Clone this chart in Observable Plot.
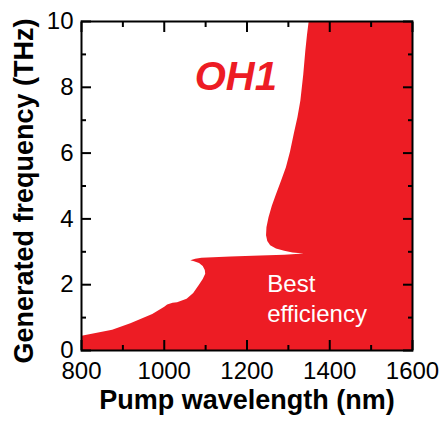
<!DOCTYPE html>
<html>
<head>
<meta charset="utf-8">
<script src="https://cdn.jsdelivr.net/npm/d3@7"></script>
<script src="https://cdn.jsdelivr.net/npm/@observablehq/plot@0.6"></script>
<style>
  html, body { margin: 0; padding: 0; background: #fff; }
  #chart { width: 442px; height: 423px; }
</style>
</head>
<body>
<div id="chart"></div>
<script>
// Boundary of the phase-matched region (pump wavelength nm, generated frequency THz)
const regionWavelength = [800, 800, 874, 918, 971, 1000, 1007, 1020, 1031, 1054, 1070, 1083, 1093, 1099, 1098, 1093, 1084, 1072, 1063, 1075, 1090, 1160, 1232, 1290, 1337, 1310, 1290, 1270, 1256, 1249, 1246, 1247, 1252, 1260, 1270, 1282, 1294, 1304, 1313, 1322, 1329, 1336, 1341, 1345, 1349, 1600, 1600];
const regionFrequency  = [0, 0.45, 0.63, 0.83, 1.11, 1.33, 1.40, 1.45, 1.47, 1.57, 1.75, 1.98, 2.17, 2.33, 2.45, 2.57, 2.66, 2.71, 2.74, 2.79, 2.82, 2.86, 2.89, 2.91, 2.95, 2.98, 3.03, 3.10, 3.20, 3.33, 3.50, 3.75, 4.05, 4.40, 4.75, 5.15, 5.57, 6.05, 6.59, 7.10, 7.60, 8.40, 9.12, 9.60, 10, 10, 0];

const xMajorTicks = [800, 1000, 1200, 1400, 1600];
const xMinorTicks = [900, 1100, 1300, 1500];
const yMajorTicks = [0, 2, 4, 6, 8, 10];
const yMinorTicks = [1, 3, 5, 7, 9];

const xLabel = "Pump wavelength (nm)";
const yLabel = "Generated frequency (THz)";
const materialLabel = ["OH1"];
const materialPos = [1173, 8.3];
const noteLabel = ["Best\nefficiency"];
const notePos = [1249, 2.43];

const red = "#ed1c24";
const region = regionWavelength.map((x, i) => ({x, y: regionFrequency[i]}));

const tickStyle = {stroke: "black", strokeWidth: 2, fontSize: 24, fill: "black", label: null};

const chart = Plot.plot({
  width: 442,
  height: 423,
  marginLeft: 81,
  marginRight: 30,
  marginTop: 21,
  marginBottom: 73,
  style: {fontFamily: "'Liberation Sans', Arial, Helvetica, sans-serif", background: "white", color: "black"},
  x: {domain: [800, 1600], axis: null},
  y: {domain: [0, 10], axis: null},
  marks: [
    Plot.line(region, {x: "x", y: "y", fill: red, stroke: "none", curve: "linear-closed", clip: true}),
    Plot.axisX({...tickStyle, anchor: "bottom", ticks: xMajorTicks, tickSize: -10, tickPadding: 21, tickFormat: d => String(d)}),
    Plot.axisX({...tickStyle, anchor: "bottom", ticks: xMinorTicks, tickSize: -5, tickFormat: () => ""}),
    Plot.axisX({...tickStyle, anchor: "top", ticks: xMajorTicks, tickSize: -10, tickFormat: () => ""}),
    Plot.axisX({...tickStyle, anchor: "top", ticks: xMinorTicks, tickSize: -5, tickFormat: () => ""}),
    Plot.axisY({...tickStyle, anchor: "left", ticks: yMajorTicks, tickSize: -10, tickPadding: 18, tickFormat: d => String(d)}),
    Plot.axisY({...tickStyle, anchor: "left", ticks: yMinorTicks, tickSize: -5, tickFormat: () => ""}),
    Plot.axisY({...tickStyle, anchor: "right", ticks: yMajorTicks, tickSize: -10, tickFormat: () => ""}),
    Plot.axisY({...tickStyle, anchor: "right", ticks: yMinorTicks, tickSize: -5, tickFormat: () => ""}),
    Plot.frame({stroke: "black", strokeWidth: 2}),
    Plot.text(materialLabel, {x: () => materialPos[0], y: () => materialPos[1], text: d => d, fill: red, fontSize: 40, fontWeight: "bold", fontStyle: "italic", textAnchor: "middle", lineAnchor: "middle"}),
    Plot.text(noteLabel, {x: () => notePos[0], y: () => notePos[1], text: d => d, fill: "white", fontSize: 24, textAnchor: "start", lineAnchor: "top", lineHeight: 1.25}),
    Plot.text([xLabel], {frameAnchor: "bottom", dy: 50, text: d => d, fontSize: 27, fontWeight: "bold", fill: "black", textAnchor: "middle", lineAnchor: "middle"}),
    Plot.text([yLabel], {frameAnchor: "left", dx: -57, dy: 5, rotate: -90, text: d => d, fontSize: 27, fontWeight: "bold", fill: "black", textAnchor: "middle", lineAnchor: "middle"})
  ]
});
document.getElementById("chart").appendChild(chart);
</script>
</body>
</html>
